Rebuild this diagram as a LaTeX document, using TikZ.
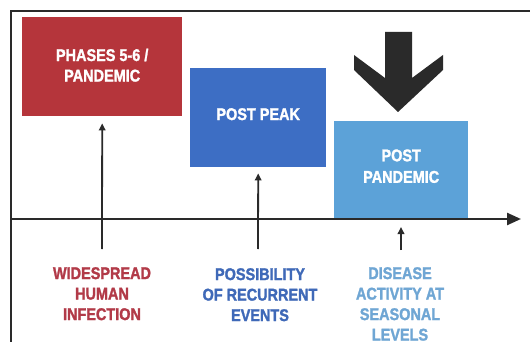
\documentclass[tikz,border=0pt]{standalone}
\usepackage{fontspec}
\setmainfont{Liberation Sans}[FakeStretch=0.85, BoldFeatures={FakeBold=1.5}]
\usetikzlibrary{arrows.meta}
\definecolor{cred}{HTML}{B5353B}
\definecolor{cblue}{HTML}{3D6EC4}
\definecolor{clight}{HTML}{5CA2D8}
\definecolor{credtext}{HTML}{B23A48}
\definecolor{cbluetext}{HTML}{3F69B8}
\definecolor{clighttext}{HTML}{6FA6D4}
\definecolor{cdark}{HTML}{2A2A2A}
\begin{document}
\begin{tikzpicture}[x=1pt,y=-1pt,
  phase/.style={anchor=north west, inner sep=0pt},
  phasetext/.style={inner sep=0pt, text=white, align=center,
    font=\bfseries\fontsize{17}{20.5}\selectfont},
  lab/.style={anchor=north, align=center, inner sep=0pt,
    font=\bfseries\fontsize{17}{20.5}\selectfont},
  pointer/.style={draw=cdark, line width=1.8pt, -{Triangle[length=7pt,width=6.5pt]}},
  frameline/.style={draw=cdark, line width=2pt},
]
\useasboundingbox (0,0) rectangle (530,342);
\fill[white] (0,0) rectangle (530,342);
% frame
\coordinate (fTR) at (530,11);
\coordinate (fTL) at (11,11);
\coordinate (fBL) at (11,342);
\draw[frameline] (fTR) -- (fTL) -- (fBL);
% phase boxes
\node[phase, fill=cred, minimum width=160pt, minimum height=99pt] (red) at (22,17) {};
\node[phase, fill=cblue, minimum width=136pt, minimum height=99pt] (blue) at (190,68) {};
\node[phase, fill=clight, minimum width=134pt, minimum height=98pt] (light) at (334,121) {};
\node[phasetext] (redt) at ([yshift=1.5pt]red.center) {PHASES 5-6 /\\PANDEMIC};
\node[phasetext] (bluet) at ([yshift=3.5pt]blue.center) {POST PEAK};
\node[phasetext, font=\bfseries\fontsize{17}{21.5}\selectfont] (lightt) at ([yshift=4pt]light.center) {POST\\PANDEMIC};
% big arrow
\fill[cdark] (385,32) -- (412,32) -- (412,78) -- (443,55) -- (443,70) -- (398,112)
  -- (354,70) -- (354,55) -- (385,78) -- cycle;
% axis
\coordinate (axL) at (11,219);
\coordinate (axR) at (521,219);
\draw[cdark, line width=2.4pt, -{Triangle[length=14pt,width=12pt]}] (axL) -- (axR);
% labels
\node[lab, text=credtext] (l1) at (102,267) {WIDESPREAD\\HUMAN\\INFECTION};
\node[lab, text=cbluetext] (l2) at (260,268) {POSSIBILITY\\OF RECURRENT\\EVENTS};
\node[lab, text=clighttext] (l3) at (400,267) {DISEASE\\ACTIVITY AT\\SEASONAL\\LEVELS};
% pointers
\coordinate (s1) at (102,249);
\coordinate (s2) at (258,249);
\coordinate (s3) at (401,250);
\coordinate (t3) at (401,227);
\draw[pointer] (s1) -- ([yshift=-7pt]red.south);
\draw[pointer] (s2) -- ([yshift=-6pt]blue.south);
\draw[pointer] (s3) -- (t3);
\end{tikzpicture}
\end{document}
